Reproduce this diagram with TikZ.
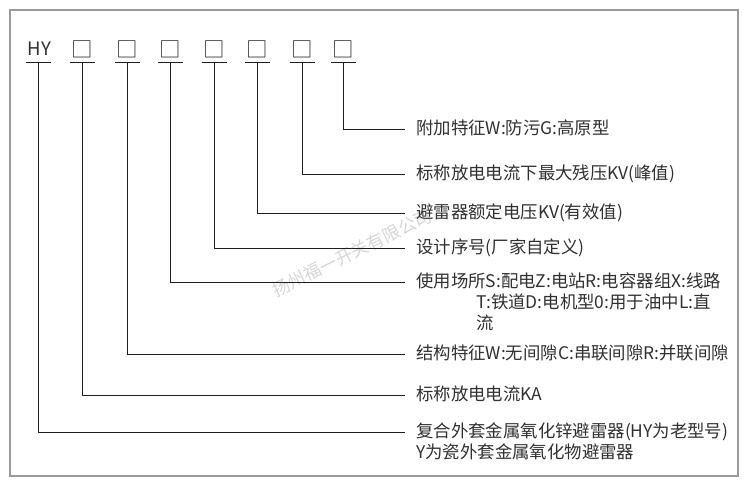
\documentclass[tikz,border=0pt]{standalone}
\usepackage{fontspec}
\setmainfont{Noto Sans CJK SC}
\definecolor{txt}{HTML}{303030}
\definecolor{ln}{HTML}{1E1E1E}
\definecolor{frame}{HTML}{9A9A9A}
\definecolor{wm}{HTML}{D6D6D6}
\begin{document}
\begin{tikzpicture}[x=1pt,y=-1pt,
  code/.style={inner sep=0pt,text=txt,font=\fontsize{18.5}{20}\selectfont},
  boxcode/.style={inner sep=0pt,text=txt,font=\fontsize{21.5}{22}\selectfont},
  lab/.style={anchor=west,inner sep=0pt,text=txt,font=\fontsize{17.4}{20}\selectfont,text height=13pt,text depth=2pt},
  conn/.style={draw=ln,line width=0.9pt},
  bar/.style={draw=ln,line width=1.1pt}]
\useasboundingbox (0,0) rectangle (750,493);
\draw[frame,line width=1.1pt] (10,10) rectangle (738,476);
% watermark
\node[text=wm,font=\fontsize{17.5}{20}\selectfont,rotate=26,inner sep=0pt] (wmk) at (352,253) {扬州福一开关有限公司};
% top codes
\node[code] (c1) at (39.3,49.2) {HY};
\node[boxcode] (c2) at (82,49.5) {□};
\node[boxcode] (c3) at (127.5,49.5) {□};
\node[boxcode] (c4) at (170.5,49.5) {□};
\node[boxcode] (c5) at (214,49.5) {□};
\node[boxcode] (c6) at (257.5,49.5) {□};
\node[boxcode] (c7) at (302.5,49.5) {□};
\node[boxcode] (c8) at (343.5,49.5) {□};
% bar anchors
\coordinate (t1) at (38.5,62.7);
\coordinate (t2) at (82,62.7);
\coordinate (t3) at (127.5,62.7);
\coordinate (t4) at (170.5,62.7);
\coordinate (t5) at (214,62.7);
\coordinate (t6) at (257.5,62.7);
\coordinate (t7) at (302.5,62.7);
\coordinate (t8) at (343.5,62.7);
\foreach \i in {1,...,8} {\draw[bar] ([xshift=-12.5pt]t\i) -- ([xshift=12.5pt]t\i);}
% labels
\node[lab] (l8) at (416,129) {附加特征W:防污G:高原型};
\node[lab] (l7) at (416,174) {标称放电电流下最大残压KV(峰值)};
\node[lab] (l6) at (416,213) {避雷器额定电压KV(有效值)};
\node[lab] (l5) at (416,248) {设计序号(厂家自定义)};
\node[lab] (l4) at (416,282) {使用场所S:配电Z:电站R:电容器组X:线路};
\node[lab] (l4b) at (476,303) {T:铁道D:电机型0:用于油中L:直};
\node[lab] (l4c) at (476,323.5) {流};
\node[lab] (l3) at (416,354) {结构特征W:无间隙C:串联间隙R:并联间隙};
\node[lab] (l2) at (416,395) {标称放电电流KA};
\node[lab] (l1) at (416,432) {复合外套金属氧化锌避雷器(HY为老型号)};
\node[lab] (l1b) at (416,452.5) {Y为瓷外套金属氧化物避雷器};
% connectors
\draw[conn] (t8) |- ([xshift=-11pt]l8.west);
\draw[conn] (t7) |- ([xshift=-11pt]l7.west);
\draw[conn] (t6) |- ([xshift=-11pt]l6.west);
\draw[conn] (t5) |- ([xshift=-11pt]l5.west);
\draw[conn] (t4) |- ([xshift=-11pt]l4.west);
\draw[conn] (t3) |- ([xshift=-11pt]l3.west);
\draw[conn] (t2) |- ([xshift=-11pt]l2.west);
\draw[conn] (t1) |- ([xshift=-11pt]l1.west);
\end{tikzpicture}
\end{document}
